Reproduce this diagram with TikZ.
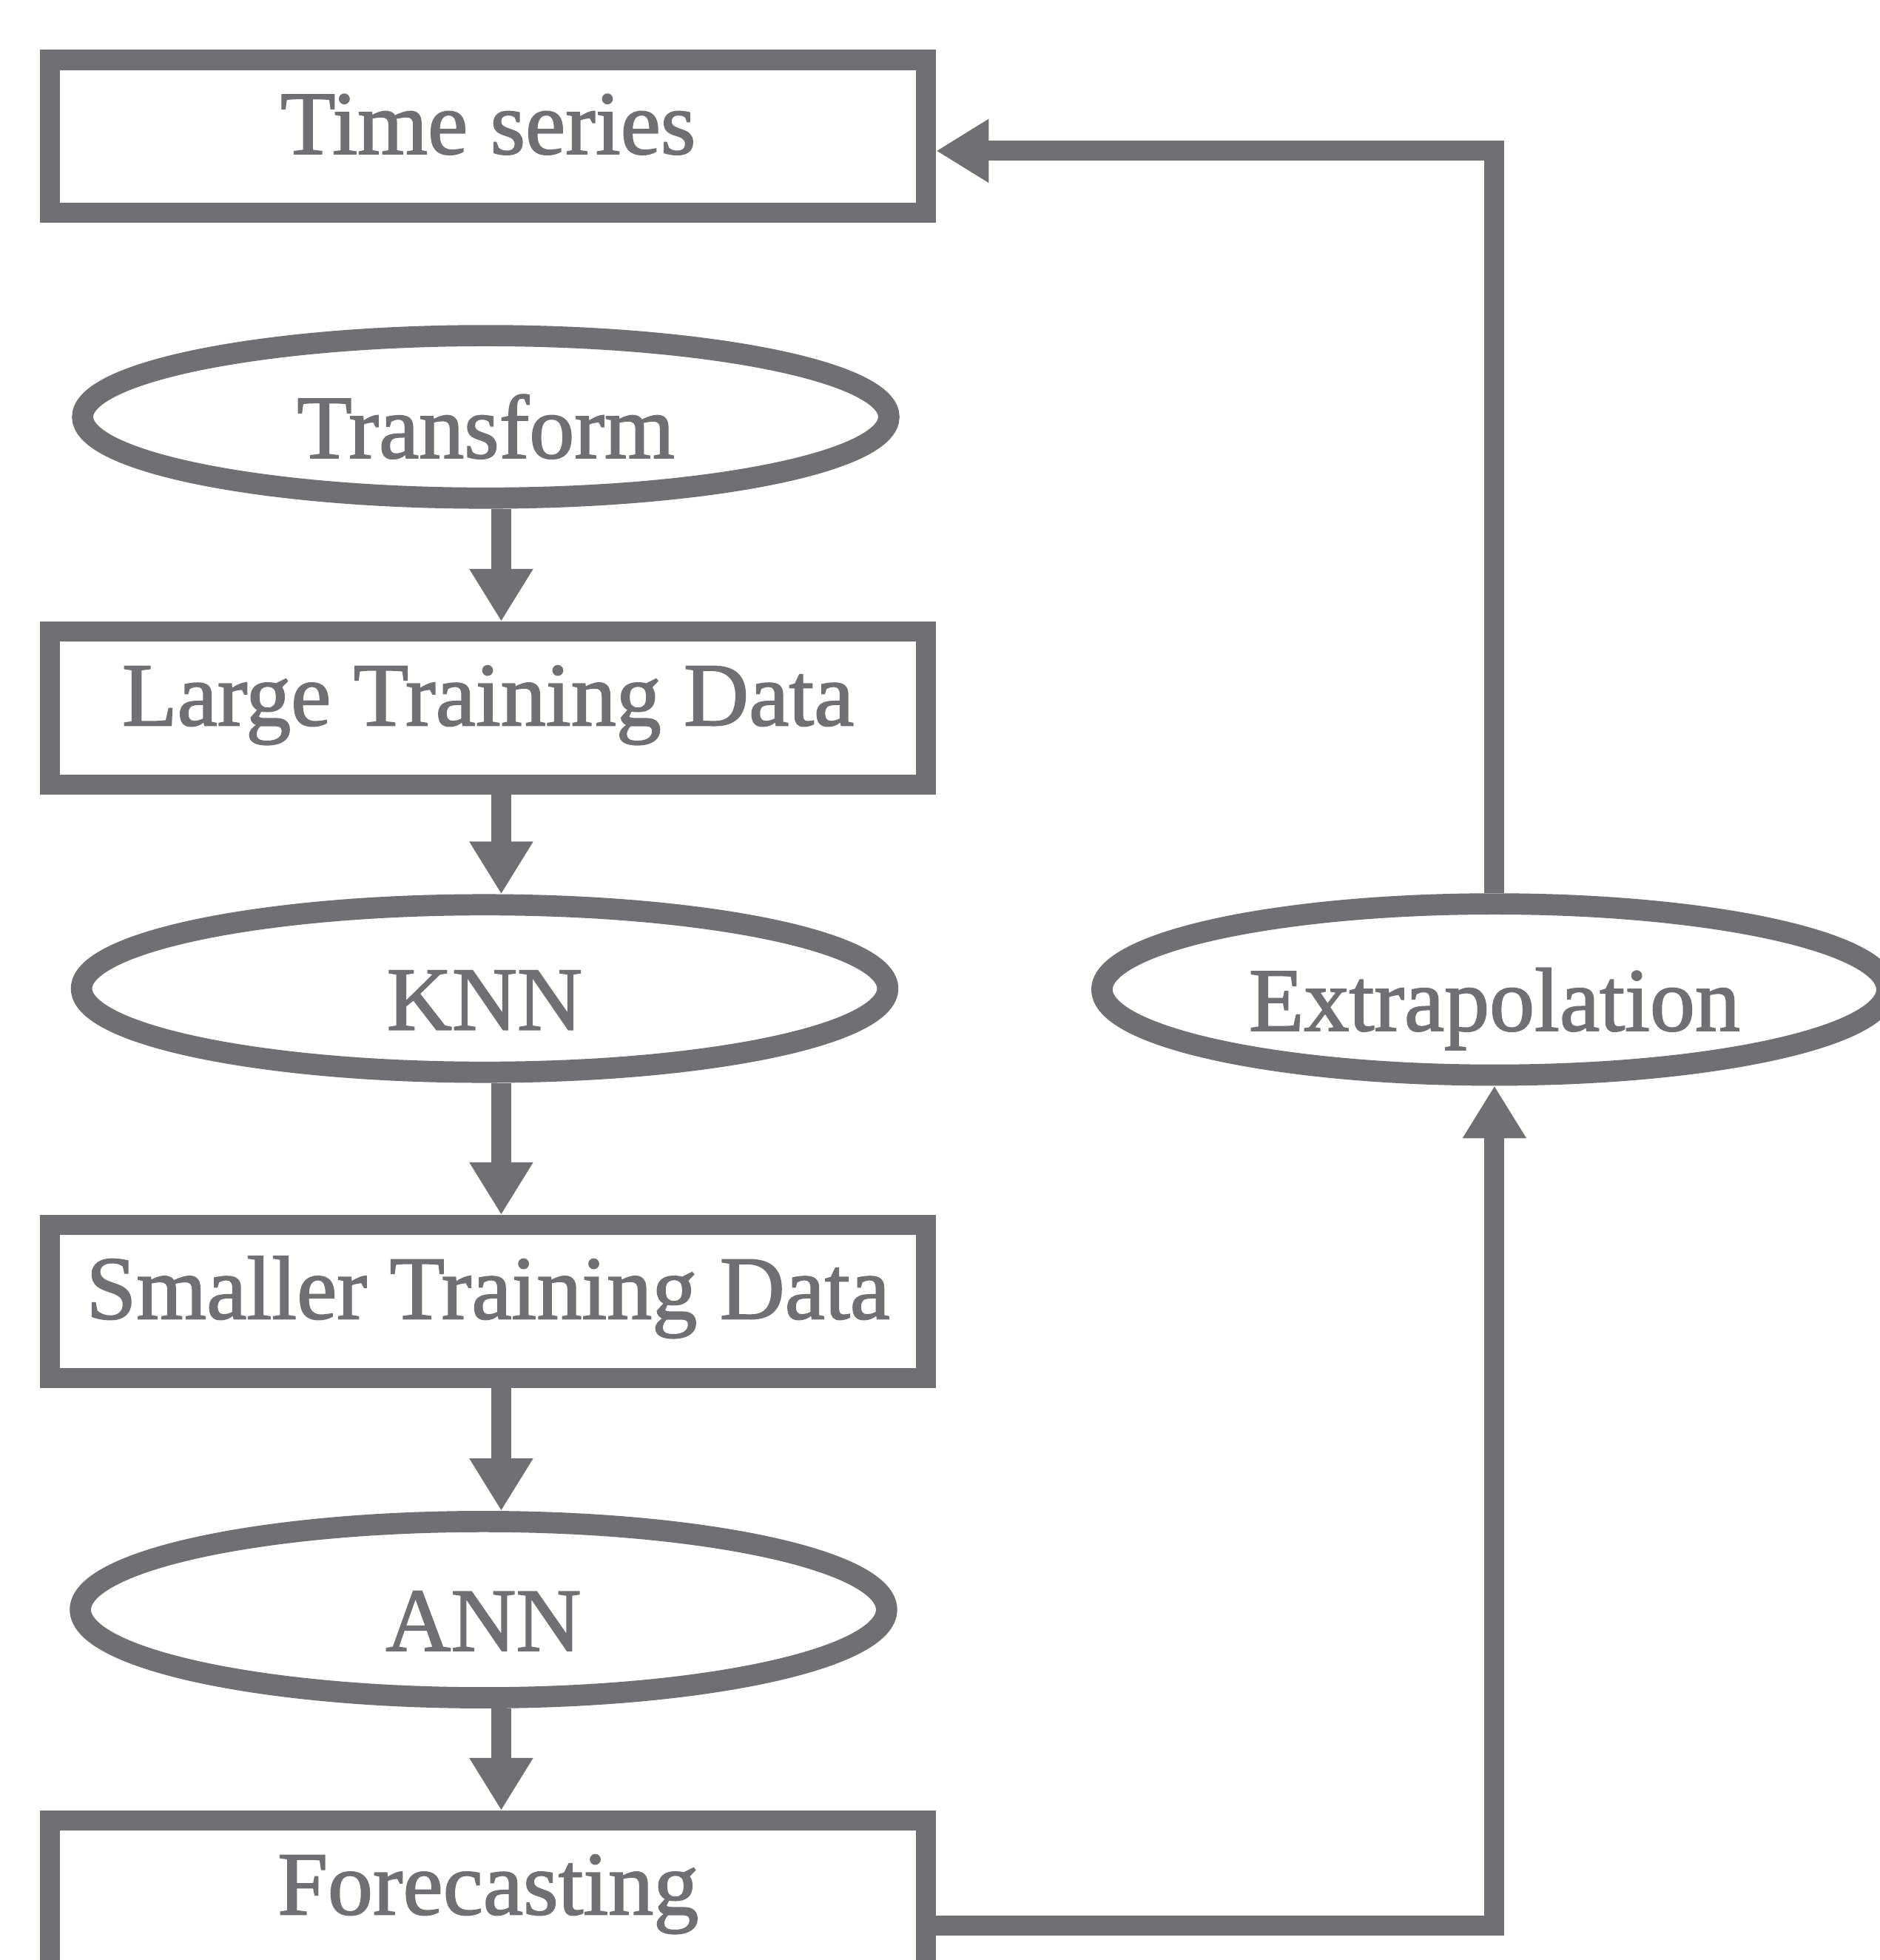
\documentclass[tikz,border=0pt]{standalone}
\usepackage{fontspec}
\setmainfont[FakeBold=1.5]{Liberation Serif}
\usetikzlibrary{arrows.meta,shapes.geometric,calc}
\definecolor{ink}{RGB}{112,112,116}
\begin{document}
\begin{tikzpicture}[x=0.5pt,y=-0.5pt,
  every node/.style={font=\fontsize{36.1}{40}\selectfont, text=ink},
  stagebox/.style={draw=ink, line width=8pt, rectangle, inner sep=0pt,
    minimum width=350.5pt, minimum height=61.25pt,
    text height=20pt, text depth=6.1pt},
  methodoval/.style={draw=ink, line width=8.5pt, ellipse, inner sep=0pt,
    minimum width=322.5pt, minimum height=67pt,
    text height=33pt, text depth=0.1pt},
  flow/.style={draw=ink, line width=8pt, line join=miter,
    -{Triangle[length=21pt,width=24pt]}}
]
\useasboundingbox (0,0) rectangle (1504,1568);
\fill[white] (0,0) rectangle (1504,1568);
\clip (0,0) rectangle (1504,1568);

% main column of stages and methods
\node[stagebox] (ts) at (390.5,109.2) {Time series};
\node[methodoval, minimum height=65pt] (tf) at (388.6,333.5) {Transform};
\node[stagebox] (ltd) at (390.5,566.4) {Large Training Data};
\node[methodoval, minimum height=67pt] (knn) at (387.7,790.8) {KNN};
\node[stagebox] (std) at (390.5,1041.1) {Smaller Training Data};
\node[methodoval, minimum height=70.5pt] (ann) at (386.8,1287.7) {ANN};
\node[stagebox] (fc) at (390.5,1517.6) {Forecasting};

% feedback step on the right
\node[methodoval, minimum width=314pt, minimum height=68.5pt] (ex) at (1195.6,791.6) {Extrapolation};

% downward arrows share one vertical line
\coordinate (ax) at (401,0);
\draw[flow] (tf.south -| ax) -- (ltd.north -| ax);
\draw[flow] (ltd.south -| ax) -- (knn.north -| ax);
\draw[flow] (knn.south -| ax) -- (std.north -| ax);
\draw[flow] (std.south -| ax) -- (ann.north -| ax);
\draw[flow] (ann.south -| ax) -- (fc.north -| ax);

% feedback loop
\draw[flow] ($(fc.east)+(0,23)$) -| (ex.south);
\draw[flow] (ex.north) |- ($(ts.east)+(0,11.5)$);
\end{tikzpicture}
\end{document}
